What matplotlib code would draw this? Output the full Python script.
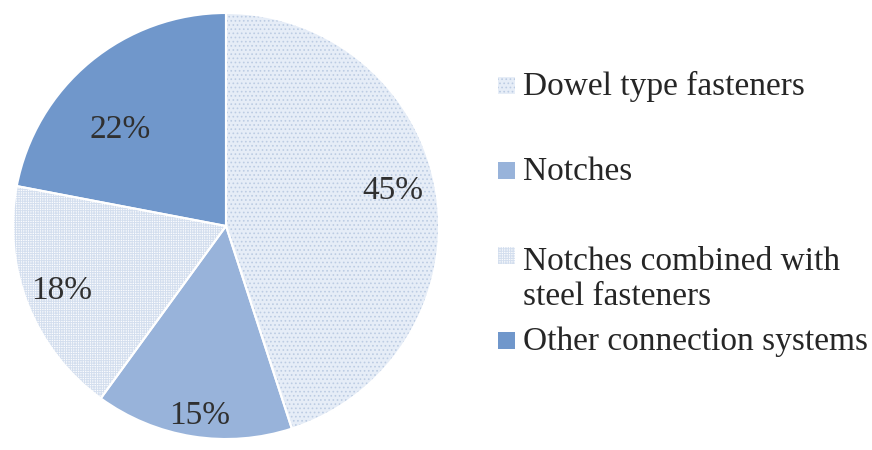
import matplotlib
matplotlib.use("Agg")
import matplotlib.pyplot as plt
from matplotlib.patches import Rectangle
import numpy as np

# connection types and their share (%)
labels = ['Dowel type fasteners', 'Notches',
          'Notches combined with\nsteel fasteners', 'Other connection systems']
shares = [45, 15, 18, 22]

base_colors = ['#e6edf7', '#c4d5ec', '#fbfcfe', '#7097cb']
hatch_colors = ['#bccce3', '#98b3da', '#d3deee', '#7097cb']
hatches = ['....', '\\' * 24, '+' * 7, None]
label_r = [0.80, 0.90, 0.83, 0.67]
label_shift = [3, 1, 0, 8]   # degrees, nudges label off the wedge middle

plt.rcParams['font.family'] = ['Liberation Serif', 'DejaVu Serif']
plt.rcParams['hatch.linewidth'] = 0.7

fig = plt.figure(figsize=(8.72, 4.5), dpi=100)
ax = fig.add_axes([13 / 872, 11 / 450, 426 / 872, 426 / 450])

wedges, _ = ax.pie(shares, colors=base_colors, startangle=90, counterclock=False,
                   wedgeprops=dict(linewidth=0))
# hatch overlay
over, _ = ax.pie(shares, colors=['none'] * 4, startangle=90, counterclock=False,
                 wedgeprops=dict(linewidth=0))
for w, h, hc in zip(over, hatches, hatch_colors):
    w.set_hatch(h)
    w.set_edgecolor(hc)
# white separators
ax.pie(shares, colors=['none'] * 4, startangle=90, counterclock=False,
       wedgeprops=dict(linewidth=1.5, edgecolor='white'))

for w, v, r, s in zip(wedges, shares, label_r, label_shift):
    mid = np.deg2rad((w.theta1 + w.theta2) / 2 + s)
    ax.text(r * np.cos(mid), r * np.sin(mid), f'{v}%', ha='center', va='center',
            fontsize=24, color='#303030')

ax.set_xlim(-1, 1)
ax.set_ylim(-1, 1)
ax.set_aspect('equal')
ax.axis('off')

# legend, one entry per connection type
W, H = 872, 450
fs = 24
lsp = 1.2
line_px = lsp * fs * 100 / 72
for i, (lab, fc, h, hc) in enumerate(zip(labels, base_colors, hatches, hatch_colors)):
    base = 95 + i * 85
    extra = lab.count('\n') * line_px
    fig.patches.append(Rectangle((498 / W, 1 - (base - 1) / H), 17 / W, 17 / H,
                                 transform=fig.transFigure, facecolor=fc,
                                 edgecolor=hc, hatch=h, linewidth=0))
    fig.text(523 / W, 1 - (base + extra) / H, lab, ha='left', va='baseline',
             fontsize=fs, color='#262626', linespacing=lsp)

fig.savefig('out.png', dpi=100)
